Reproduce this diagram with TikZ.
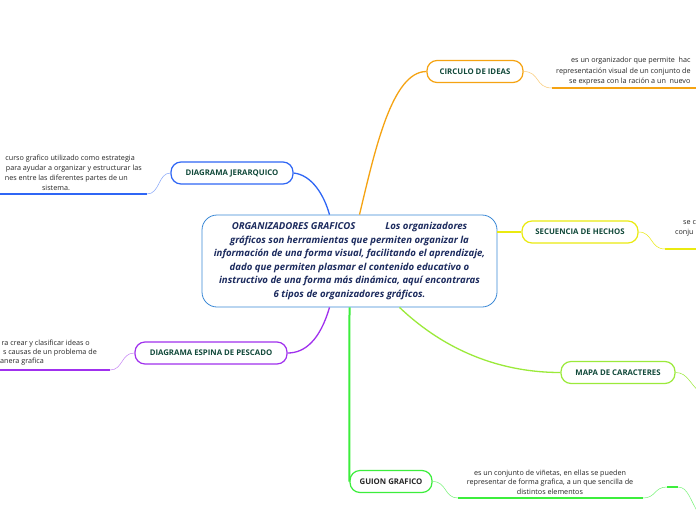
\documentclass[tikz,border=0pt]{standalone}
\usepackage{fontspec}
\setmainfont{Open Sans}
\usepackage{xcolor}
\usepackage{tikz}
\usetikzlibrary{positioning}
\definecolor{hubBlue}{HTML}{3A88D6}
\definecolor{hubText}{HTML}{1C2B5E}
\definecolor{labelGreen}{HTML}{11493A}
\definecolor{cOrange}{HTML}{F5A312}
\definecolor{cBlue}{HTML}{2F66F5}
\definecolor{cYellow}{HTML}{EAEA10}
\definecolor{cLime}{HTML}{9BEA3A}
\definecolor{cGreen}{HTML}{3CEE3C}
\definecolor{cPurple}{HTML}{A030EE}

\begin{document}
\begin{tikzpicture}[x=1pt,y=-1pt,
    topic/.style={draw,line width=1.2pt,rounded corners=10pt,minimum height=22pt,
      inner xsep=6pt,font=\fontsize{7.8}{8}\selectfont\bfseries,text=labelGreen},
    note/.style={font=\fontsize{7.2}{9.6}\selectfont,text=black!85,inner sep=0pt},
    link/.style={line width=1.3pt},
    twig/.style={line width=0.5pt},
    rule/.style={line width=1.6pt}]
  \useasboundingbox (0,0) rectangle (696,520);
  \clip (0,0) rectangle (696,520);
  \fill[white] (0,0) rectangle (696,520);

  % central idea
  \node[draw=hubBlue,line width=0.8pt,rounded corners=15pt,minimum width=295pt,
    minimum height=92pt,align=center,text=hubText,
    font=\fontsize{9.6}{13.6}\selectfont\bfseries\itshape] (hub) at (349.5,261)
    {ORGANIZADORES GRAFICOS\hspace{30pt}Los organizadores\\
     gráficos son herramientas que permiten organizar la\\
     información de una forma visual, facilitando el aprendizaje,\\
     dado que permiten plasmar el contenido educativo o\\
     instructivo de una forma más dinámica, aquí encontraras\\
     6 tipos de organizadores gráficos.};

  % main topics
  \node[topic,draw=cOrange,minimum width=96pt] (circulo) at (475,71.5) {CIRCULO DE IDEAS};
  \node[topic,draw=cBlue,minimum width=122pt] (jerarq) at (232,173) {DIAGRAMA JERARQUICO};
  \node[topic,draw=cYellow,minimum width=116pt] (secuencia) at (580,232) {SECUENCIA DE HECHOS};
  \node[topic,draw=cPurple,minimum width=152pt] (espina) at (211,353) {DIAGRAMA ESPINA DE PESCADO};
  \node[topic,draw=cLime,minimum width=114pt] (mapa) at (618,372.5) {MAPA DE CARACTERES};
  \node[topic,draw=cGreen,minimum width=82pt,text=black!85] (guion) at (391,481.5) {GUION GRAFICO};

  % hub to topics
  \draw[link,cOrange] ([xshift=10pt]hub.north) .. controls (375,150) and (392,71.5) .. (circulo.west);
  \draw[link,cBlue] (jerarq.east) .. controls (312,175) and (324,195) .. ([xshift=-20pt]hub.north);
  \draw[link,cYellow] (hub.east |- secuencia.west) -- (secuencia.west);
  \draw[link,cPurple] ([xshift=-20pt]hub.south) .. controls (320,340) and (305,353) .. (espina.east);
  \draw[link,cLime] ([xshift=50pt]hub.south) .. controls (455,360) and (515,372.5) .. (mapa.west);
  \draw[cGreen,line width=2pt] (hub.south) -- (guion.west);

  % circulo de ideas note
  \node[note,anchor=west] (circ1) at (571,61) {es un organizador que permite\ \ hac};
  \node[note,anchor=west] (circ2) at (556,72) {representación visual de un conjunto de};
  \node[note,anchor=west] (circ3) at (569,82) {se expresa con la ración a un\ \ nuevo};
  \coordinate (circA) at (552,88);
  \coordinate (circB) at (700,88);
  \draw[twig,cOrange!60] (circulo.east) .. controls (540,71.5) and (535,88) .. (circA);
  \draw[rule,cOrange] (circA) -- (circB);

  % jerarquico note
  \node[note,anchor=east] (jer1) at (135,159) {curso grafico utilizado como estrategia};
  \node[note,anchor=east] (jer2) at (142,169) {para ayudar a organizar y estructurar las};
  \node[note,anchor=east] (jer3) at (128,179) {nes entre las diferentes partes de un};
  \node[note] (jer4) at (56,188) {sistema.};
  \coordinate (jerA) at (-5,194);
  \coordinate (jerB) at (147,194);
  \draw[rule,cBlue] (jerA) -- (jerB);
  \draw[twig,cBlue!60] (jerB) .. controls (160,194) and (158,173) .. (jerarq.west);

  % secuencia note
  \node[note,anchor=west] (sec1) at (683,223) {se c};
  \node[note,anchor=west] (sec2) at (675,233) {conju};
  \coordinate (secA) at (665,249);
  \coordinate (secB) at (700,249);
  \draw[twig,cYellow] (secuencia.east) .. controls (653,232) and (650,249) .. (secA);
  \draw[rule,cYellow] (secA) -- (secB);

  % espina note
  \node[note,anchor=east] (esp1) at (90,344) {ra crear y clasificar ideas o};
  \node[note,anchor=east] (esp2) at (97,353) {s causas de un problema de};
  \node[note,anchor=east] (esp3) at (44,362) {anera grafica};
  \coordinate (espA) at (-5,370);
  \coordinate (espB) at (110,370);
  \draw[rule,cPurple] (espA) -- (espB);
  \draw[twig,cPurple!60] (espB) .. controls (123,370) and (121,353) .. (espina.west);

  % mapa
  \coordinate (mapaA) at (702,394);
  \draw[twig,cLime] (mapa.east) .. controls (688,372.5) and (690,385) .. (mapaA);

  % guion note
  \node[note,align=center] (gnote) at (550,482)
    {es un conjunto de viñetas, en ellas se pueden\\
     representar de forma grafica, a un que sencilla de\\
     distintos elementos};
  \coordinate (gA) at (458,498);
  \coordinate (gB) at (643,498);
  \draw[twig,cGreen!70] (guion.east) .. controls (447,481.5) and (444,498) .. (gA);
  \draw[rule,cGreen] (gA) -- (gB);
  \coordinate (subA) at (667,487);
  \coordinate (subB) at (678,487);
  \coordinate (subC) at (700,516);
  \draw[twig,cGreen!70] (gB) .. controls (656,498) and (654,487) .. (subA);
  \draw[rule,cGreen] (subA) -- (subB);
  \draw[twig,cGreen!70] (subB) .. controls (688,487) and (690,500) .. (subC);
\end{tikzpicture}
\end{document}
